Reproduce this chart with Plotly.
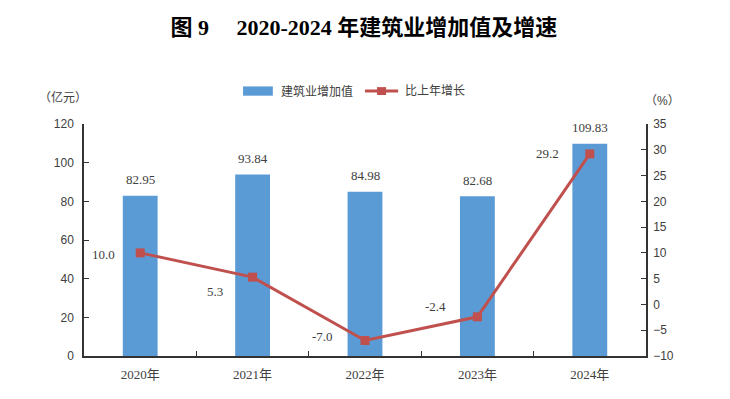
import plotly.graph_objects as go

years = ["2020年", "2021年", "2022年", "2023年", "2024年"]
value_added = [82.95, 93.84, 84.98, 82.68, 109.83]
growth = [10.0, 5.3, -7.0, -2.4, 29.2]

# label offsets (pixels) for growth labels
g_xshift = [-37, -38, -43, -42, -42]
g_yshift = [-2, -14, 4, 10, 0]

serif = "Liberation Serif, Noto Sans CJK SC"
sans = "Liberation Sans, Noto Sans CJK SC"
BLUE = "#5b9bd5"
RED = "#c0504d"
TXT = "#404040"

fig = go.Figure()
fig.add_trace(go.Bar(
    x=years, y=value_added, name="建筑业增加值",
    marker=dict(color=BLUE, line=dict(width=0)), yaxis="y", showlegend=False,
))
fig.add_trace(go.Scatter(
    x=years, y=growth, name="比上年增长", mode="lines+markers",
    line=dict(color=RED, width=3),
    marker=dict(symbol="square", size=9, color=RED),
    cliponaxis=False, yaxis="y2", showlegend=False,
))

ann = []
for x, v in zip(years, value_added):
    ann.append(dict(x=x, y=v, xref="x", yref="y", text=f"{v:.2f}", showarrow=False,
                    xanchor="center", yanchor="middle", yshift=16,
                    font=dict(family=serif, size=13, color=TXT)))
for x, v, dx, dy in zip(years, growth, g_xshift, g_yshift):
    ann.append(dict(x=x, y=v, xref="x", yref="y2", text=f"{v:.1f}", showarrow=False,
                    xanchor="center", yanchor="middle", xshift=dx, yshift=dy,
                    font=dict(family=serif, size=13, color=TXT)))

# units
ann.append(dict(text="（亿元）", xref="paper", yref="paper", x=-0.037, y=1.116,
                xanchor="center", yanchor="middle", showarrow=False,
                font=dict(family=sans, size=12, color=TXT)))
ann.append(dict(text="（%）", xref="paper", yref="paper", x=1.03, y=1.099,
                xanchor="center", yanchor="middle", showarrow=False,
                font=dict(family=sans, size=12, color=TXT)))
# custom legend
LEG_Y = 1.142
ann.append(dict(text="建筑业增加值", xref="paper", yref="paper", x=0.347, y=LEG_Y,
                xanchor="left", yanchor="middle", showarrow=False,
                font=dict(family=sans, size=12, color=TXT)))
ann.append(dict(text="比上年增长", xref="paper", yref="paper", x=0.568, y=LEG_Y,
                xanchor="left", yanchor="middle", showarrow=False,
                font=dict(family=sans, size=12, color=TXT)))

shapes = [
    dict(type="rect", xref="paper", yref="paper", x0=0.283, x1=0.336,
         y0=LEG_Y - 0.02, y1=LEG_Y + 0.02, fillcolor=BLUE, line=dict(width=0)),
    dict(type="line", xref="paper", yref="paper", x0=0.500, x1=0.559,
         y0=LEG_Y, y1=LEG_Y, line=dict(color=RED, width=3)),
    dict(type="rect", xref="paper", yref="paper", x0=0.5215, x1=0.5375,
         y0=LEG_Y - 0.017, y1=LEG_Y + 0.017, fillcolor=RED, line=dict(width=0)),
]

fig.update_layout(
    width=722, height=391,
    margin=dict(l=76, r=84, t=116, b=43),
    paper_bgcolor="white", plot_bgcolor="white",
    bargap=0.69,
    showlegend=False,
    title=dict(text="<b>图 9　 2020-2024 年建筑业增加值及增速</b>", x=0.493, xanchor="center",
               y=0.951, yanchor="middle",
               font=dict(family=serif, size=22, color="black")),
    xaxis=dict(type="category", showline=True, linecolor="#333", linewidth=1.5,
               ticks="inside", tickson="boundaries", ticklen=5, tickcolor="#333",
               ticklabelstandoff=6,
               tickfont=dict(family=serif, size=13, color=TXT), showgrid=False),
    yaxis=dict(range=[0, 120], dtick=20, showline=True, linecolor="#333", linewidth=1.5,
               ticks="inside", ticklen=5, tickcolor="#333", showgrid=False, zeroline=False,
               ticklabelstandoff=6,
               tickfont=dict(family=sans, size=12, color=TXT)),
    yaxis2=dict(range=[-10, 35], dtick=5, overlaying="y", side="right", showline=True,
                linecolor="#333", linewidth=1.5, ticks="inside", ticklen=5, tickcolor="#333",
                showgrid=False, zeroline=False, ticklabelstandoff=3,
                tickfont=dict(family=sans, size=12, color=TXT)),
    annotations=ann,
    shapes=shapes,
)

fig.write_html("out.html")
